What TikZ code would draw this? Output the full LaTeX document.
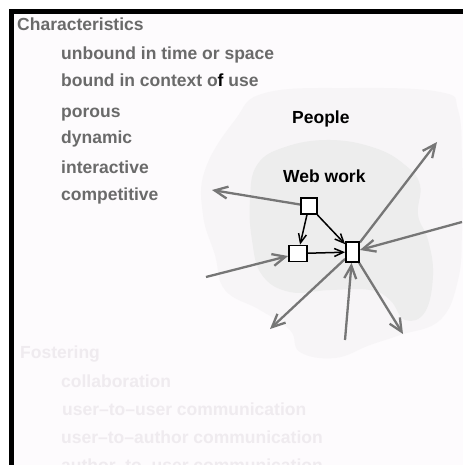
\documentclass[tikz,border=0pt]{standalone}
\usepackage{fontspec}
\setmainfont{Liberation Sans}
\usetikzlibrary{arrows.meta}
\definecolor{bgpink}{HTML}{FDFBFD}
\definecolor{outerblob}{HTML}{F7F5F7}
\definecolor{innerblob}{HTML}{EDEDED}
\definecolor{txtgray}{HTML}{6A6A6A}
\definecolor{fadetxt}{HTML}{EFEBEF}
\definecolor{arrgray}{HTML}{767676}
\tikzset{
  lbl/.style={anchor=base west, inner sep=0pt, font=\fontsize{17.5}{20}\selectfont\bfseries},
  heading/.style={lbl, text=txtgray},
  item/.style={lbl, text=txtgray},
  fade/.style={lbl, text=fadetxt},
  title/.style={lbl, text=black},
  wbox/.style={draw=black, fill=white, line width=1.8pt, inner sep=0pt},
  grayarr/.style={draw=arrgray, line width=2.3pt, -{Straight Barb[length=13pt,width=12pt]}},
  blackarr/.style={draw=black, line width=1.5pt, -{Straight Barb[length=9pt,width=8pt]}},
}
\begin{document}
\begin{tikzpicture}[x=1pt,y=-1pt]
\useasboundingbox (0,0) rectangle (463,465);
\clip (0,0) rectangle (463,465);
\fill[white] (0,0) rectangle (463,465);
\fill[bgpink] (14,14) rectangle (463,465);
% frame
\fill[black] (9,9) rectangle (463,14);
\fill[black] (9,9) rectangle (14,465);
% blobs
\fill[outerblob] plot[smooth cycle, tension=0.7] coordinates {
 (265,93) (350,88) (440,92) (458,110) (462,160) (462,230) (458,280)
 (440,320) (400,335) (370,345) (335,358) (300,352) (290,330) (260,310)
 (225,290) (215,255) (203,215) (205,170) (235,120)};
\fill[innerblob] plot[smooth cycle, tension=0.7] coordinates {
 (257,165) (285,147) (330,140) (375,148) (405,165) (420,185) (418,215)
 (428,240) (433,275) (425,312) (405,320) (390,300) (370,290) (330,290)
 (290,292) (262,275) (252,240) (250,200)};
% texts
\node[heading] (ch) at (17,31) {Characteristics};
\node[item] (c1) at (61,60) {unbound in time or space};
\node[item] (c2) at (61,87) {bound in context o{\color{black}f} use};
\node[item] (c3) at (61,118) {porous};
\node[item] (c4) at (61,143) {dynamic};
\node[item] (c5) at (61,173) {interactive};
\node[item] (c6) at (61,200) {competitive};
\node[title] (people) at (292,124) {People};
\node[title] (web) at (283,182) {Web work};
\node[fade] (fo) at (20,358) {Fostering};
\node[fade] (f1) at (61,387) {collaboration};
\node[fade] (f2) at (62,415) {user–to–user communication};
\node[fade] (f3) at (61,443) {user–to–author communication};
\node[fade] (f4) at (61,471) {author–to–user communication};
% boxes
\node[wbox, minimum width=16pt, minimum height=16pt] (A) at (309,206) {};
\node[wbox, minimum width=18pt, minimum height=16pt] (B) at (298,253.5) {};
\node[wbox, minimum width=13pt, minimum height=20pt] (C) at (352.5,252) {};
% free ends
\coordinate (pW) at (212,190);
\coordinate (pNE) at (437,142);
\coordinate (pE) at (462,222);
\coordinate (pBW) at (206,277);
\coordinate (pSW) at (270,329);
\coordinate (pS) at (345,340);
\coordinate (pSE) at (403,334);
% gray arrows
\draw[grayarr] (A) -- (pW);
\draw[grayarr] (C) -- (pNE);
\draw[grayarr] (pE) -- (C);
\draw[grayarr] (pBW) -- (B);
\draw[grayarr] (C) -- (pSW);
\draw[grayarr] (pS) -- (C);
\draw[grayarr] (C) -- (pSE);
% black arrows
\draw[blackarr] (A) -- (B);
\draw[blackarr] (A) -- (C);
\draw[blackarr] (B) -- (C);
% redraw boxes on top
\node[wbox, minimum width=16pt, minimum height=16pt] at (A) {};
\node[wbox, minimum width=18pt, minimum height=16pt] at (B) {};
\node[wbox, minimum width=13pt, minimum height=20pt] at (C) {};
\end{tikzpicture}
\end{document}
